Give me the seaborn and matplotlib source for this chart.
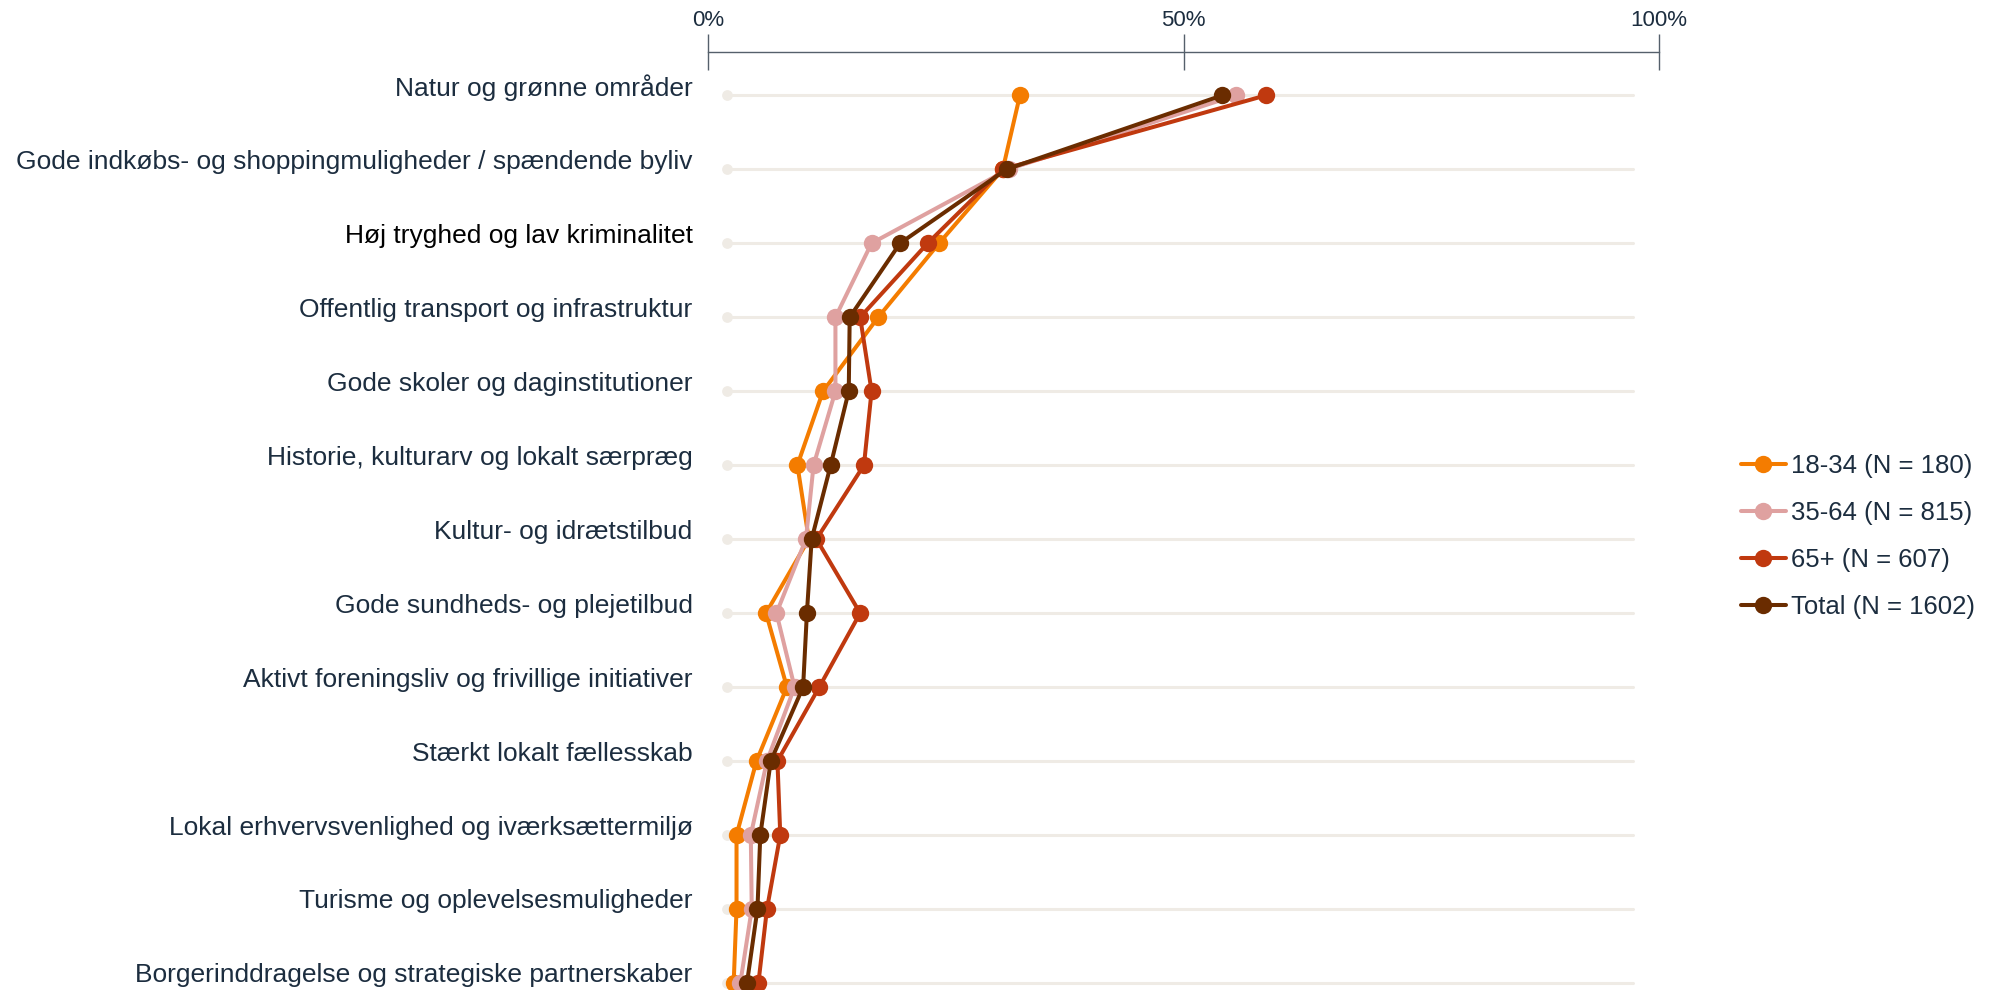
#!/usr/bin/env python
# -*- coding: utf-8 -*-
"""
Slope-style point chart: share naming each quality, by age group.
"""
import pandas as pd
import matplotlib
matplotlib.use("Agg")
import matplotlib.pyplot as plt
from matplotlib.lines import Line2D
from matplotlib.transforms import ScaledTranslation
import seaborn as sns

categories = [
    "Natur og grønne områder",
    "Gode indkøbs- og shoppingmuligheder / spændende byliv",
    "Høj tryghed og lav kriminalitet",
    "Offentlig transport og infrastruktur",
    "Gode skoler og daginstitutioner",
    "Historie, kulturarv og lokalt særpræg",
    "Kultur- og idrætstilbud",
    "Gode sundheds- og plejetilbud",
    "Aktivt foreningsliv og frivillige initiativer",
    "Stærkt lokalt fællesskab",
    "Lokal erhvervsvenlighed og iværksættermiljø",
    "Turisme og oplevelsesmuligheder",
    "Borgerinddragelse og strategiske partnerskaber",
]

groups = ["18-34 (N = 180)", "35-64 (N = 815)", "65+ (N = 607)", "Total (N = 1602)"]

age_18_34 = [32.8, 31.0, 24.3, 17.9, 12.1, 9.4, 10.6, 6.1, 8.3, 5.1, 3.0, 3.0, 2.7]
age_35_64 = [55.5, 31.6, 17.2, 13.4, 13.4, 11.1, 10.3, 7.2, 9.1, 6.2, 4.5, 4.6, 3.4]
age_65_up = [58.7, 31.0, 23.1, 16.0, 17.2, 16.4, 11.4, 16.0, 11.7, 7.3, 7.6, 6.2, 5.3]
total = [54.1, 31.4, 20.2, 14.9, 14.8, 12.9, 10.9, 10.4, 10.0, 6.6, 5.5, 5.2, 4.1]

x_ticks = [0, 50, 100]
x_tick_labels = ["0%", "50%", "100%"]

colors = ["#f47c00", "#dfa1a0", "#c0390f", "#6a2c00"]
NAVY = "#1c2d3f"
GRID = "#efebe5"


def build_frame():
    rows = []
    for grp, vals in zip(groups, [age_18_34, age_35_64, age_65_up, total]):
        for i, v in enumerate(vals):
            rows.append({"group": grp, "pos": i, "pct": v})
    return pd.DataFrame(rows)


def main():
    sns.set_theme(style="white")
    plt.rcParams["font.family"] = ["Liberation Sans", "DejaVu Sans"]

    df = build_frame()
    pos = list(range(len(categories)))

    fig = plt.figure(figsize=(20.01, 9.9), dpi=100)
    ax = fig.add_axes([708 / 2001, 0, 951 / 2001, 938 / 990])

    # background tracks
    tracks = ax.hlines(pos, 2, 97.3, color=GRID, lw=2.2, zorder=0)
    tracks.set_capstyle("round")
    sns.scatterplot(x=[2] * len(pos), y=pos, color=GRID, s=60, linewidth=0,
                    zorder=1, ax=ax)

    sns.lineplot(data=df, x="pct", y="pos", hue="group", hue_order=groups,
                 palette=colors, orient="y", estimator=None, sort=True,
                 marker="o", markersize=12.5, markeredgewidth=0, linewidth=2.9,
                 legend=False, ax=ax)

    ax.set_xlim(0, 100)
    ax.set_ylim(12.095, -0.585)
    ax.set_xlabel("")
    ax.set_ylabel("")

    for s in ["left", "right", "bottom"]:
        ax.spines[s].set_visible(False)
    ax.spines["top"].set_color("#55606b")
    ax.spines["top"].set_linewidth(1.0)

    ax.xaxis.tick_top()
    ax.set_xticks(x_ticks, x_tick_labels)
    ax.tick_params(axis="x", direction="inout", length=26, width=1.0,
                   color="#55606b", labelsize=16, labelcolor=NAVY, pad=2)

    ax.set_yticks(pos, categories)
    ax.tick_params(axis="y", length=0, labelsize=19, labelcolor=NAVY, pad=11)
    shift = ScaledTranslation(0, 10 / 100, fig.dpi_scale_trans)
    for lbl in ax.get_yticklabels():
        lbl.set_transform(lbl.get_transform() + shift)
        if lbl.get_text().startswith("Høj"):
            lbl.set_color("black")

    handles = [Line2D([0], [0], color=c, lw=2.9, marker="o", markersize=12.5,
                      markeredgewidth=0) for c in colors]
    leg = fig.legend(handles, groups, loc="center left",
                     bbox_to_anchor=(1741 / 2001, 0.4578), frameon=False,
                     fontsize=18.5, handlelength=1.75, handletextpad=0.2,
                     labelspacing=0.9, borderpad=0, borderaxespad=0)
    for t in leg.get_texts():
        t.set_color(NAVY)

    fig.savefig("out.png", dpi=100)


if __name__ == "__main__":
    main()
